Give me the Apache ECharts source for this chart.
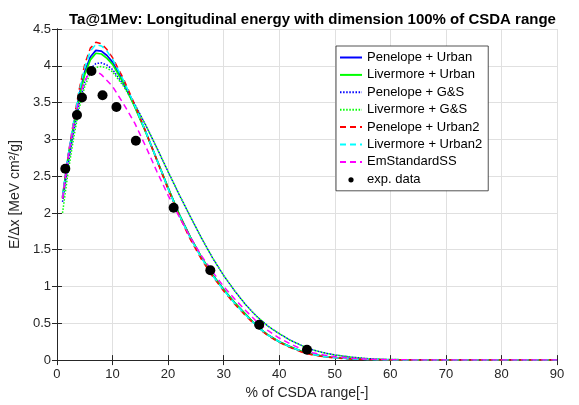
<!DOCTYPE html>
<html>
<head>
<meta charset="utf-8">
<script src="https://cdn.jsdelivr.net/npm/echarts@6/dist/echarts.min.js"></script>
<style>html,body{margin:0;padding:0;background:#fff}#c{width:579px;height:405px}</style>
</head>
<body>
<div id="c"></div>
<script>
const xs = [1,2,3,4,5,6,7,8,9,10,12,14,16,18,20,22,24,26,28,30,32,34,36,38,40,42,44,46,48,50,53,56,60,65,70,80,90];
const penUrban = [2.22,2.76,3.2,3.6,3.92,4.12,4.21,4.2,4.14,4.05,3.78,3.45,3.1,2.72,2.34,1.98,1.67,1.4,1.16,0.96,0.78,0.62,0.46,0.34,0.25,0.18,0.12,0.08,0.05,0.035,0.018,0.008,0.003,0.001,0,0,0];
const livUrban = [2.2,2.74,3.18,3.57,3.88,4.08,4.17,4.16,4.1,4.02,3.76,3.44,3.09,2.72,2.34,1.98,1.67,1.4,1.16,0.96,0.78,0.62,0.46,0.34,0.25,0.18,0.12,0.08,0.05,0.035,0.018,0.008,0.003,0.001,0,0,0];
const penGS = [2.15,2.65,3.1,3.48,3.78,3.96,4.03,4.04,4.01,3.95,3.74,3.48,3.19,2.88,2.56,2.25,1.95,1.66,1.39,1.15,0.94,0.75,0.59,0.46,0.36,0.27,0.2,0.14,0.1,0.07,0.04,0.02,0.008,0.003,0.001,0,0];
const livGS = [2.0,2.55,3.02,3.42,3.72,3.9,3.98,3.99,3.97,3.92,3.72,3.47,3.19,2.88,2.56,2.25,1.95,1.66,1.39,1.15,0.94,0.75,0.59,0.46,0.36,0.27,0.2,0.14,0.1,0.07,0.04,0.02,0.008,0.003,0.001,0,0];
const penUrban2 = [2.2,2.78,3.25,3.68,4.02,4.24,4.32,4.3,4.22,4.11,3.82,3.47,3.1,2.71,2.32,1.96,1.64,1.37,1.14,0.94,0.76,0.6,0.45,0.33,0.24,0.17,0.11,0.07,0.045,0.03,0.015,0.007,0.003,0.001,0,0,0];
const livUrban2 = [2.22,2.78,3.24,3.65,3.98,4.2,4.29,4.27,4.2,4.09,3.8,3.46,3.1,2.72,2.33,1.97,1.66,1.39,1.15,0.95,0.77,0.61,0.46,0.34,0.25,0.18,0.12,0.08,0.05,0.033,0.017,0.008,0.003,0.001,0,0,0];
const emStdSS = [2.2,2.75,3.2,3.56,3.8,3.92,3.93,3.88,3.8,3.72,3.48,3.22,2.9,2.56,2.24,1.95,1.67,1.42,1.2,1.0,0.83,0.67,0.52,0.4,0.3,0.22,0.15,0.1,0.07,0.045,0.025,0.012,0.005,0.002,0.001,0,0];
const expX = [1.5,3.6,4.5,6.2,8.2,10.7,14.2,21.0,27.6,36.4,45.0];
const expY = [2.6,3.33,3.57,3.93,3.6,3.44,2.98,2.07,1.22,0.48,0.14];
const xTicks = [0,10,20,30,40,50,60,70,80,90];
const yTicks = [0,0.5,1,1.5,2,2.5,3,3.5,4,4.5];

const FONT = 'Liberation Sans, Arial, Helvetica, sans-serif';
const AX = '#262626';
const zip = (a, b) => a.map((v, i) => [v, b[i]]);

function lineSeries(name, data, color, type) {
  return {
    name, type: 'line', data: zip(xs, data), symbol: 'none', smooth: false,
    lineStyle: { color, width: type === 'solid' ? 1.7 : 1.5, type: type === 'dotted' ? [1.5, 1.6] : (type === 'dashed' ? [6, 4] : 'solid') },
    itemStyle: { color }, z: 2
  };
}
const lineLegend = (name) => ({ name, itemStyle: { opacity: 0 } });

const chart = echarts.init(document.getElementById('c'), null, { renderer: 'canvas' });
const axisCommon = {
  type: 'value',
  axisLine: { show: true, lineStyle: { color: AX, width: 1 } },
  axisTick: { show: true, inside: true, length: 5, lineStyle: { color: AX } },
};
chart.setOption({
  animation: false,
  backgroundColor: '#fff',
  textStyle: { fontFamily: FONT },
  title: {
    text: 'Ta@1Mev: Longitudinal energy with dimension 100% of CSDA range',
    left: 64, top: 7,
    textStyle: { fontFamily: FONT, fontSize: 15, fontWeight: 'bold', color: '#000' }
  },
  grid: { left: 56, right: 22, top: 29, bottom: 38, containLabel: false },
  legend: {
    orient: 'vertical', left: 336, top: 46,
    padding: [5, 6, 4, 3], itemGap: 4.4, itemWidth: 22, itemHeight: 14,
    borderColor: AX, borderWidth: 0.8, backgroundColor: '#fff',
    textStyle: { fontFamily: FONT, fontSize: 13, color: '#000' },
    data: [
      lineLegend('Penelope + Urban'), lineLegend('Livermore + Urban'),
      lineLegend('Penelope + G&S'), lineLegend('Livermore + G&S'),
      lineLegend('Penelope + Urban2'), lineLegend('Livermore + Urban2'), lineLegend('EmStandardSS'),
      { name: 'exp. data', icon: 'path://M0,0M22,14M11,7m-2.6,0a2.6,2.6 0 1,0 5.2,0a2.6,2.6 0 1,0 -5.2,0z', itemStyle: { color: '#000', opacity: 1 } }
    ]
  },
  xAxis: [
    Object.assign({}, axisCommon, {
      min: xTicks[0], max: xTicks[xTicks.length - 1], interval: 10, position: 'bottom',
      name: '% of CSDA range[-]', nameLocation: 'middle', nameGap: 23,
      nameTextStyle: { fontFamily: FONT, fontSize: 14, color: AX },
      axisLabel: { fontFamily: FONT, fontSize: 13, color: AX, margin: 8 },
      splitLine: { show: true, lineStyle: { color: '#e0e0e0', width: 1 } }
    }),
    Object.assign({}, axisCommon, {
      min: xTicks[0], max: xTicks[xTicks.length - 1], interval: 10, position: 'top',
      axisLabel: { show: false }, splitLine: { show: false }
    })
  ],
  yAxis: [
    Object.assign({}, axisCommon, {
      min: yTicks[0], max: yTicks[yTicks.length - 1], interval: 0.5, position: 'left',
      name: 'E/Δx [MeV cm²/g]', nameLocation: 'middle', nameGap: 28, nameRotate: 90,
      nameTextStyle: { fontFamily: FONT, fontSize: 14, color: AX },
      axisLabel: { fontFamily: FONT, fontSize: 13, color: AX, margin: 6 },
      splitLine: { show: true, lineStyle: { color: '#e0e0e0', width: 1 } }
    }),
    Object.assign({}, axisCommon, {
      min: yTicks[0], max: yTicks[yTicks.length - 1], interval: 0.5, position: 'right',
      axisLabel: { show: false }, splitLine: { show: false }
    })
  ],
  series: [
    lineSeries('Penelope + Urban', penUrban, '#0000ff', 'solid'),
    lineSeries('Livermore + Urban', livUrban, '#00ff00', 'solid'),
    lineSeries('Penelope + G&S', penGS, '#0000ff', 'dotted'),
    lineSeries('Livermore + G&S', livGS, '#00ff00', 'dotted'),
    lineSeries('Penelope + Urban2', penUrban2, '#ff0000', 'dashed'),
    lineSeries('Livermore + Urban2', livUrban2, '#00ffff', 'dashed'),
    lineSeries('EmStandardSS', emStdSS, '#ff00ff', 'dashed'),
    {
      name: 'exp. data', type: 'scatter', data: zip(expX, expY),
      symbol: 'circle', symbolSize: 10, itemStyle: { color: '#000', opacity: 1 }, z: 5
    }
  ]
});
</script>
</body>
</html>
